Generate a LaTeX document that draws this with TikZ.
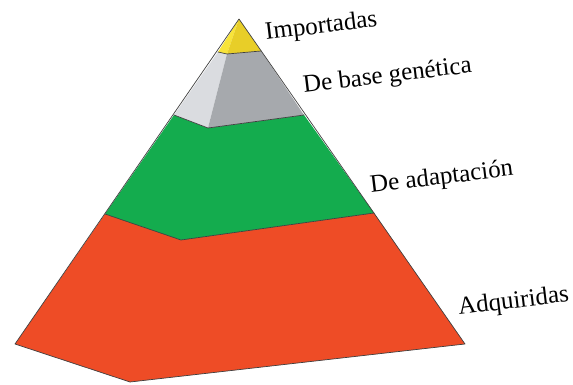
\documentclass[tikz,border=0pt]{standalone}
\usepackage{fontspec}
\setmainfont{Liberation Serif}
\usepackage{tikz}
\tikzset{face/.style={line join=round},
  edge/.style={draw=black!75,line width=0.7pt,line join=round},
  level label/.style={anchor=base west,rotate=7,inner sep=0pt,
    font=\fontsize{25}{28}\selectfont}}
\definecolor{yellowL}{RGB}{248,228,58}
\definecolor{yellowR}{RGB}{232,206,40}
\definecolor{grayL}{RGB}{218,220,224}
\definecolor{grayR}{RGB}{166,169,173}
\definecolor{greenband}{RGB}{20,172,78}
\definecolor{redband}{RGB}{238,76,38}

\begin{document}
\begin{tikzpicture}[x=1pt,y=-1pt,line cap=round]

  \useasboundingbox (0,0) rectangle (573,385);

  % corners of the pyramid, level by level
  \coordinate (top) at (239,19);
  \coordinate (l1) at (218,52);  \coordinate (m1) at (227,54);  \coordinate (r1) at (261,51);
  \coordinate (l2) at (174,115); \coordinate (m2) at (208,128); \coordinate (r2) at (304,115);
  \coordinate (l3) at (105,214); \coordinate (m3) at (181,240); \coordinate (r3) at (374,213);
  \coordinate (l4) at (15,344);  \coordinate (m4) at (130,382); \coordinate (r4) at (465,344);

  % red band
  \fill [face,redband] (l3) -- (m3) -- (r3) -- (r4) -- (m4) -- (l4) -- cycle;

  % green band
  \fill [face,greenband] (l2) -- (m2) -- (r2) -- (r3) -- (m3) -- (l3) -- cycle;

  % gray band
  \fill [face,grayL] (l1) -- (m1) -- (m2) -- (l2) -- cycle;
  \fill [face,grayR] (m1) -- (r1) -- (r2) -- (m2) -- cycle;

  % yellow tip
  \fill [face,yellowL] (top) -- (m1) -- (l1) -- cycle;
  \fill [face,yellowR] (top) -- (r1) -- (m1) -- cycle;

  % outline and band borders
  \draw [edge] (top) -- (l4) -- (m4) -- (r4) -- cycle;
  \draw [edge] (l1) -- (m1) -- (r1);
  \draw [edge] (l2) -- (m2) -- (r2);
  \draw [edge] (l3) -- (m3) -- (r3);

  \node [level label] (importadas) at (266,40) {Importadas};
  \node [level label] (genetica) at (304,93) {De base genética};
  \node [level label] (adaptacion) at (371,193) {De adaptación};
  \node [level label] (adquiridas) at (459,315) {Adquiridas};

\end{tikzpicture}
\end{document}
